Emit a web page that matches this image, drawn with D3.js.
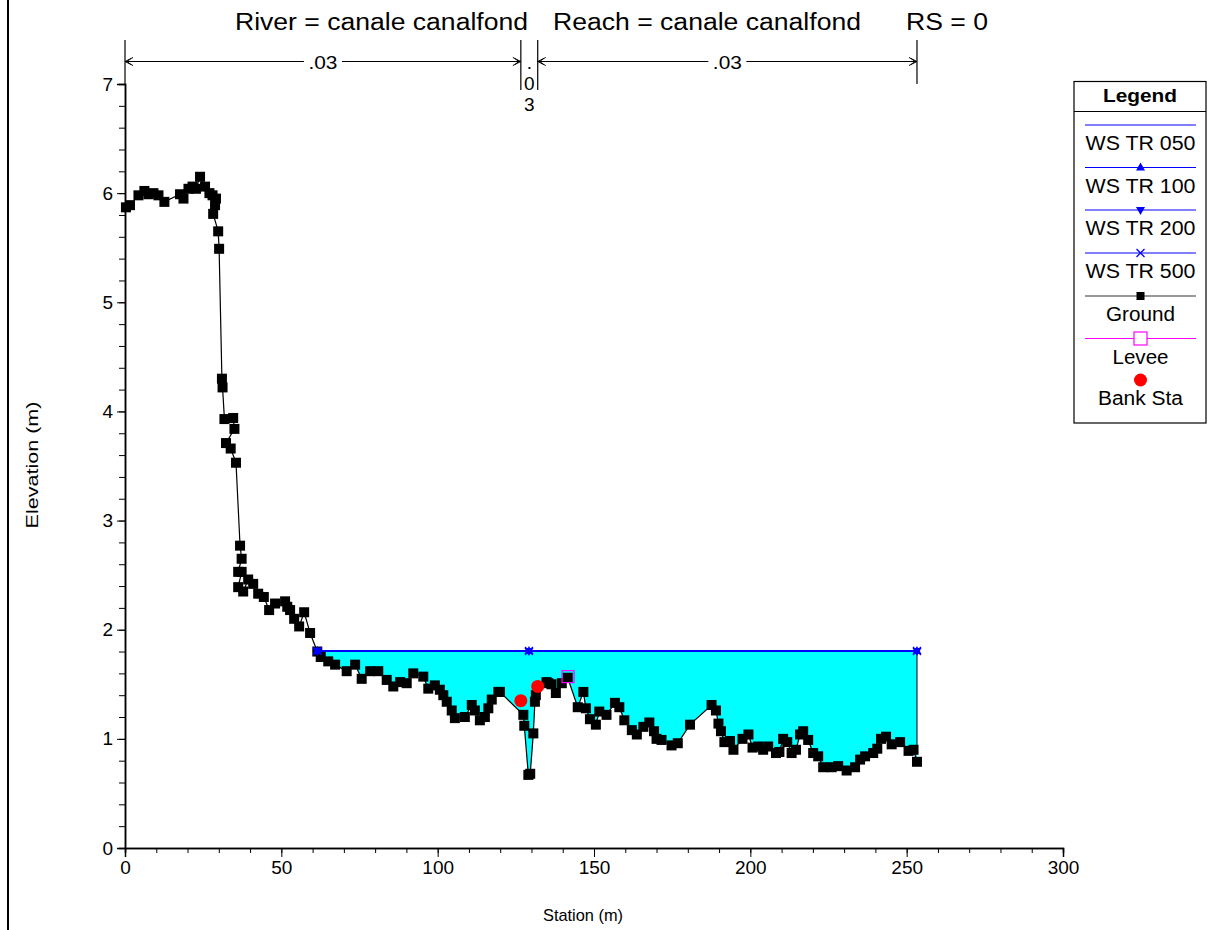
<!DOCTYPE html>
<html>
<head>
<meta charset="utf-8">
<script src="https://cdn.jsdelivr.net/npm/d3@7"></script>
<style>
  body { margin: 0; background: #fff; }
  svg { display: block; font-family: "Liberation Sans", Arial, sans-serif; }
</style>
</head>
<body>
<svg id="chart" width="1213" height="930"></svg>
<script>
// cross section data
const groundSta = [0.3, 1.6, 4.3, 6.2, 7.5, 9.1, 10.7, 12.6, 17.6, 18.7, 20.3, 21.6, 22.7, 24.0, 25.6, 27.0,
  28.0, 29.1, 28.8, 28.2, 29.8, 30.1, 31.0, 31.2, 31.8, 34.6, 35.0, 32.3, 33.8, 35.5, 36.8, 37.3,
  36.2, 37.3, 36.2, 37.8, 39.4, 41.0, 42.6, 44.4, 46.1, 48.0, 51.2, 51.9, 52.8, 54.1, 55.7, 57.3,
  59.2, 61.5, 62.6, 65.0, 67.2, 70.9, 73.6, 75.7, 78.4, 81.0, 83.7, 85.8, 88.0, 90.1, 92.2, 95.4,
  97.0, 99.1, 100.7, 101.8, 102.9, 104.5, 105.5, 108.7, 110.9, 111.9, 113.5, 115.1, 116.2, 117.3,
  119.4, 119.9, 127.4, 127.7, 129.0, 129.6, 130.6, 131.1, 131.4, 134.8, 135.4, 136.4, 137.8, 139.7,
  141.6, 144.8, 146.6, 147.4, 148.7, 150.6, 151.7, 154.0, 156.7, 158.1, 159.7, 162.1, 163.7, 165.8,
  167.7, 169.2, 170.0, 171.6, 174.8, 176.8, 180.7, 187.6, 189.0, 189.8, 190.6, 191.7, 193.5, 194.6,
  197.5, 199.4, 200.7, 202.5, 204.1, 205.7, 208.2, 209.3, 210.5, 211.8, 213.2, 214.6, 215.9, 216.9,
  218.5, 220.1, 221.7, 223.3, 226.0, 228.1, 230.8, 233.5, 235.1, 236.7, 239.3, 240.6, 241.8, 243.4,
  245.2, 247.9, 250.6, 252.2, 253.3];
const groundElev = [5.87, 5.89, 5.98, 6.02, 5.99, 6.00, 5.98, 5.92, 5.99, 5.95, 6.04, 6.06, 6.04, 6.15, 6.06, 6.00,
  5.98, 5.95, 5.89, 5.81, 5.65, 5.49, 4.30, 4.22, 3.93, 3.94, 3.84, 3.71, 3.66, 3.53, 2.77, 2.65,
  2.53, 2.53, 2.39, 2.35, 2.46, 2.42, 2.33, 2.30, 2.18, 2.24, 2.26, 2.21, 2.18, 2.10, 2.03, 2.16,
  1.97, 1.80, 1.75, 1.71, 1.68, 1.62, 1.68, 1.55, 1.62, 1.62, 1.54, 1.48, 1.52, 1.51, 1.60, 1.57,
  1.46, 1.49, 1.45, 1.40, 1.34, 1.26, 1.19, 1.20, 1.31, 1.26, 1.17, 1.20, 1.28, 1.36,
  1.43, 1.43, 1.22, 1.12, 0.67, 0.68, 1.05, 1.34, 1.40, 1.52, 1.51, 1.50, 1.42, 1.51,
  1.56, 1.29, 1.43, 1.28, 1.18, 1.13, 1.25, 1.22, 1.33, 1.29, 1.17, 1.08, 1.04, 1.11,
  1.15, 1.07, 1.00, 0.99, 0.94, 0.96, 1.13, 1.31, 1.26, 1.14, 1.07, 0.97, 0.98, 0.90,
  1.00, 1.04, 0.92, 0.93, 0.90, 0.93, 0.87, 0.88, 1.00, 0.97, 0.87, 0.90, 1.04, 1.07,
  0.99, 0.87, 0.84, 0.74, 0.74, 0.75, 0.71, 0.74, 0.81, 0.84, 0.87, 0.91, 1.00, 1.02,
  0.95, 0.97, 0.89, 0.90, 0.79];

const bankSta = [126.6, 132.0];
const bankElev = [1.35, 1.48];
const leveeSta = [141.7];
const leveeElev = [1.57];

const wsSta = [61.5, 129.2, 253.3];
const wsNames = ['WS TR 050', 'WS TR 100', 'WS TR 200', 'WS TR 500'];
const wsElev = [1.805, 1.805, 1.805, 1.805];

const nBreaks = [0, 126.6, 132.0, 253.3];
const nValues = ['.03', '.03', '.03'];

const xTicks = [0, 50, 100, 150, 200, 250, 300];
const yTicks = [0, 1, 2, 3, 4, 5, 6, 7];

const titleParts = ['River = canale canalfond', 'Reach = canale canalfond', 'RS = 0'];
const legendItems = ['WS TR 050', 'WS TR 100', 'WS TR 200', 'WS TR 500', 'Ground', 'Levee', 'Bank Sta'];

const svg = d3.select('#chart');
const x = d3.scaleLinear().domain([0, 300]).range([125, 1063]);
const y = d3.scaleLinear().domain([0, 7]).range([848, 84]);

// the source font is drawn wider than Arial, so stretch text to the measured widths
function stretch(sel, w) {
  sel.attr('textLength', w).attr('lengthAdjust', 'spacingAndGlyphs');
}

// page border on the left
svg.append('line').attr('x1', 8).attr('x2', 8).attr('y1', 0).attr('y2', 930)
  .attr('stroke', '#000').attr('stroke-width', 2);

// title
const titleX = [235, 553, 906];
const titleW = [293, 308, 82];
svg.append('g').selectAll('text').data(titleParts).enter().append('text')
  .attr('x', (d, i) => titleX[i]).attr('y', 30)
  .attr('font-size', 23).text(d => d)
  .each(function(d, i) { stretch(d3.select(this), titleW[i]); });

// water fill between WS and ground
const wsLevel = wsElev[0];
const wsLeft = wsSta[0], wsRight = wsSta[wsSta.length - 1];
const fillPts = [];
groundSta.forEach((s, i) => {
  if (s >= wsLeft && s <= wsRight) fillPts.push([s, groundElev[i]]);
});
const poly = [[wsLeft, wsLevel]].concat(fillPts, [[wsRight, groundElev[groundElev.length - 2]], [wsRight, wsLevel]]);
svg.append('path')
  .attr('d', d3.line().x(d => x(d[0])).y(d => y(d[1]))(poly) + 'Z')
  .attr('fill', '#00ffff').attr('stroke', 'none');
svg.append('line')
  .attr('x1', x(wsRight)).attr('x2', x(wsRight))
  .attr('y1', y(wsLevel)).attr('y2', y(groundElev[groundElev.length - 2]))
  .attr('stroke', '#000').attr('stroke-width', 1);

// axes
const axisG = svg.append('g');
const xMinor = d3.axisBottom(x).tickValues(d3.range(0, 301, 10)).tickSize(5).tickFormat('');
const xMajor = d3.axisBottom(x).tickValues(xTicks).tickSize(9).tickPadding(4).tickFormat(d3.format('d'));
const yMinor = d3.axisLeft(y).tickValues(d3.range(0, 36).map(i => i * 0.2)).tickSize(6).tickFormat('');
const yMajor = d3.axisLeft(y).tickValues(yTicks).tickSize(8).tickPadding(4).tickFormat(d3.format('d'));
[xMinor, xMajor].forEach(a => axisG.append('g').attr('transform', 'translate(0,848)').call(a));
[yMinor, yMajor].forEach(a => axisG.append('g').attr('transform', 'translate(125,0)').call(a));
axisG.selectAll('.domain').attr('stroke', '#000').attr('stroke-width', 1.5);
axisG.selectAll('.tick line').attr('stroke', '#000');
axisG.selectAll('.tick text').attr('font-size', 19).attr('fill', '#000')
  .attr('font-family', '"Liberation Sans", Arial, sans-serif');

svg.append('text').attr('x', 583).attr('y', 921).attr('text-anchor', 'middle')
  .attr('font-size', 17).text('Station (m)').call(stretch, 80);
svg.append('text').attr('transform', 'translate(38,465) rotate(-90)').attr('text-anchor', 'middle')
  .attr('font-size', 17).text('Elevation (m)').call(stretch, 127);

// manning's n bars
const nG = svg.append('g').attr('stroke', '#000').attr('fill', 'none');
const arrowY = 61.5;
nBreaks.forEach((b, i) => {
  const inner = i > 0 && i < nBreaks.length - 1;
  nG.append('line').attr('x1', x(b)).attr('x2', x(b))
    .attr('y1', 40).attr('y2', inner ? 90 : 84).attr('stroke-width', 1.2);
});
nValues.forEach((v, i) => {
  const a = x(nBreaks[i]), b = x(nBreaks[i + 1]);
  const mid = (a + b) / 2;
  if (b - a > 60) {
    const half = 19;
    nG.append('line').attr('x1', a).attr('x2', mid - half).attr('y1', arrowY).attr('y2', arrowY).attr('stroke-width', 1);
    nG.append('line').attr('x1', mid + half).attr('x2', b).attr('y1', arrowY).attr('y2', arrowY).attr('stroke-width', 1);
    nG.append('path').attr('d', `M${a + 8},${arrowY - 4}L${a},${arrowY}L${a + 8},${arrowY + 4}M${a + 6},${arrowY - 3}L${a + 2},${arrowY}L${a + 6},${arrowY + 3}`).attr('stroke-width', 1);
    nG.append('path').attr('d', `M${b - 8},${arrowY - 4}L${b},${arrowY}L${b - 8},${arrowY + 4}M${b - 6},${arrowY - 3}L${b - 2},${arrowY}L${b - 6},${arrowY + 3}`).attr('stroke-width', 1);
    svg.append('text').attr('x', mid - 14.5).attr('y', arrowY + 7)
      .attr('font-size', 19).text(v).call(stretch, 29);
  } else {
    svg.append('g').selectAll('text').data(v.split('')).enter().append('text')
      .attr('x', mid).attr('y', (d, j) => 69 + j * 21).attr('text-anchor', 'middle')
      .attr('font-size', 19).text(d => d);
  }
});

// ground line and markers
const groundPts = groundSta.map((s, i) => [s, groundElev[i]]);
svg.append('path')
  .attr('d', d3.line().x(d => x(d[0])).y(d => y(d[1]))(groundPts))
  .attr('fill', 'none').attr('stroke', '#000').attr('stroke-width', 1.2);
svg.append('g').selectAll('rect').data(groundPts).enter().append('rect')
  .attr('x', d => x(d[0]) - 5).attr('y', d => y(d[1]) - 5)
  .attr('width', 10).attr('height', 10).attr('fill', '#000');

// water surface lines
wsElev.forEach((e, k) => {
  svg.append('line').attr('x1', x(wsLeft)).attr('x2', x(wsRight))
    .attr('y1', y(e)).attr('y2', y(e)).attr('stroke', '#0000ff').attr('stroke-width', 2);
});
function wsMarker(g, k, cx, cy) {
  if (k === 1) g.append('path').attr('d', `M${cx},${cy - 5}L${cx + 4.5},${cy + 3}L${cx - 4.5},${cy + 3}Z`).attr('fill', '#0000ff');
  if (k === 2) g.append('path').attr('d', `M${cx},${cy + 5}L${cx + 4.5},${cy - 3}L${cx - 4.5},${cy - 3}Z`).attr('fill', '#0000ff');
  if (k === 3) g.append('path').attr('d', `M${cx - 4},${cy - 4}L${cx + 4},${cy + 4}M${cx - 4},${cy + 4}L${cx + 4},${cy - 4}`)
    .attr('stroke', '#0000ff').attr('stroke-width', 1.3);
}
const wsG = svg.append('g');
wsElev.forEach((e, k) => {
  wsSta.forEach(s => wsMarker(wsG, k, x(s), y(e)));
});

// levee and bank stations
svg.append('g').selectAll('rect').data(leveeSta).enter().append('rect')
  .attr('x', (d, i) => x(d) - 6).attr('y', (d, i) => y(leveeElev[i]) - 6)
  .attr('width', 12).attr('height', 12).attr('fill', 'none').attr('stroke', '#ff00ff').attr('stroke-width', 1.2);
svg.append('g').selectAll('circle').data(bankSta).enter().append('circle')
  .attr('cx', d => x(d)).attr('cy', (d, i) => y(bankElev[i])).attr('r', 6.5).attr('fill', '#ff0000');

// legend
const lg = svg.append('g');
lg.append('rect').attr('x', 1074).attr('y', 81.5).attr('width', 132).attr('height', 341.5)
  .attr('fill', '#fff').attr('stroke', '#000').attr('stroke-width', 1.2);
lg.append('line').attr('x1', 1074).attr('x2', 1206).attr('y1', 111.5).attr('y2', 111.5).attr('stroke', '#000');
lg.append('text').attr('x', 1103).attr('y', 102)
  .attr('font-size', 19).attr('font-weight', 'bold').text('Legend').call(stretch, 74);
const lineY = [125, 167.5, 210, 253, 296, 338.5, 380];
const labelW = [110, 110, 110, 110, 69, 56, 85];
const lx1 = 1085, lx2 = 1196, lcx = 1140.5;
legendItems.forEach((name, i) => {
  const ly = lineY[i];
  if (i < 4) {
    lg.append('line').attr('x1', lx1).attr('x2', lx2).attr('y1', ly).attr('y2', ly).attr('stroke', '#0000ff').attr('stroke-width', 1.2);
    wsMarker(lg, i, lcx, ly);
  } else if (i === 4) {
    lg.append('line').attr('x1', lx1).attr('x2', lx2).attr('y1', ly).attr('y2', ly).attr('stroke', '#333').attr('stroke-width', 1.2);
    lg.append('rect').attr('x', lcx - 4).attr('y', ly - 4).attr('width', 8).attr('height', 8).attr('fill', '#000');
  } else if (i === 5) {
    lg.append('line').attr('x1', lx1).attr('x2', lx2).attr('y1', ly).attr('y2', ly).attr('stroke', '#ff00ff').attr('stroke-width', 1.2);
    lg.append('rect').attr('x', lcx - 6.5).attr('y', ly - 6.5).attr('width', 13).attr('height', 13)
      .attr('fill', '#fff').attr('stroke', '#ff00ff').attr('stroke-width', 1.2);
  } else {
    lg.append('circle').attr('cx', lcx).attr('cy', ly).attr('r', 6.5).attr('fill', '#ff0000');
  }
  lg.append('text').attr('x', lcx - labelW[i] / 2).attr('y', ly + 25)
    .attr('font-size', 20).text(name).call(stretch, labelW[i]);
});
</script>
</body>
</html>
